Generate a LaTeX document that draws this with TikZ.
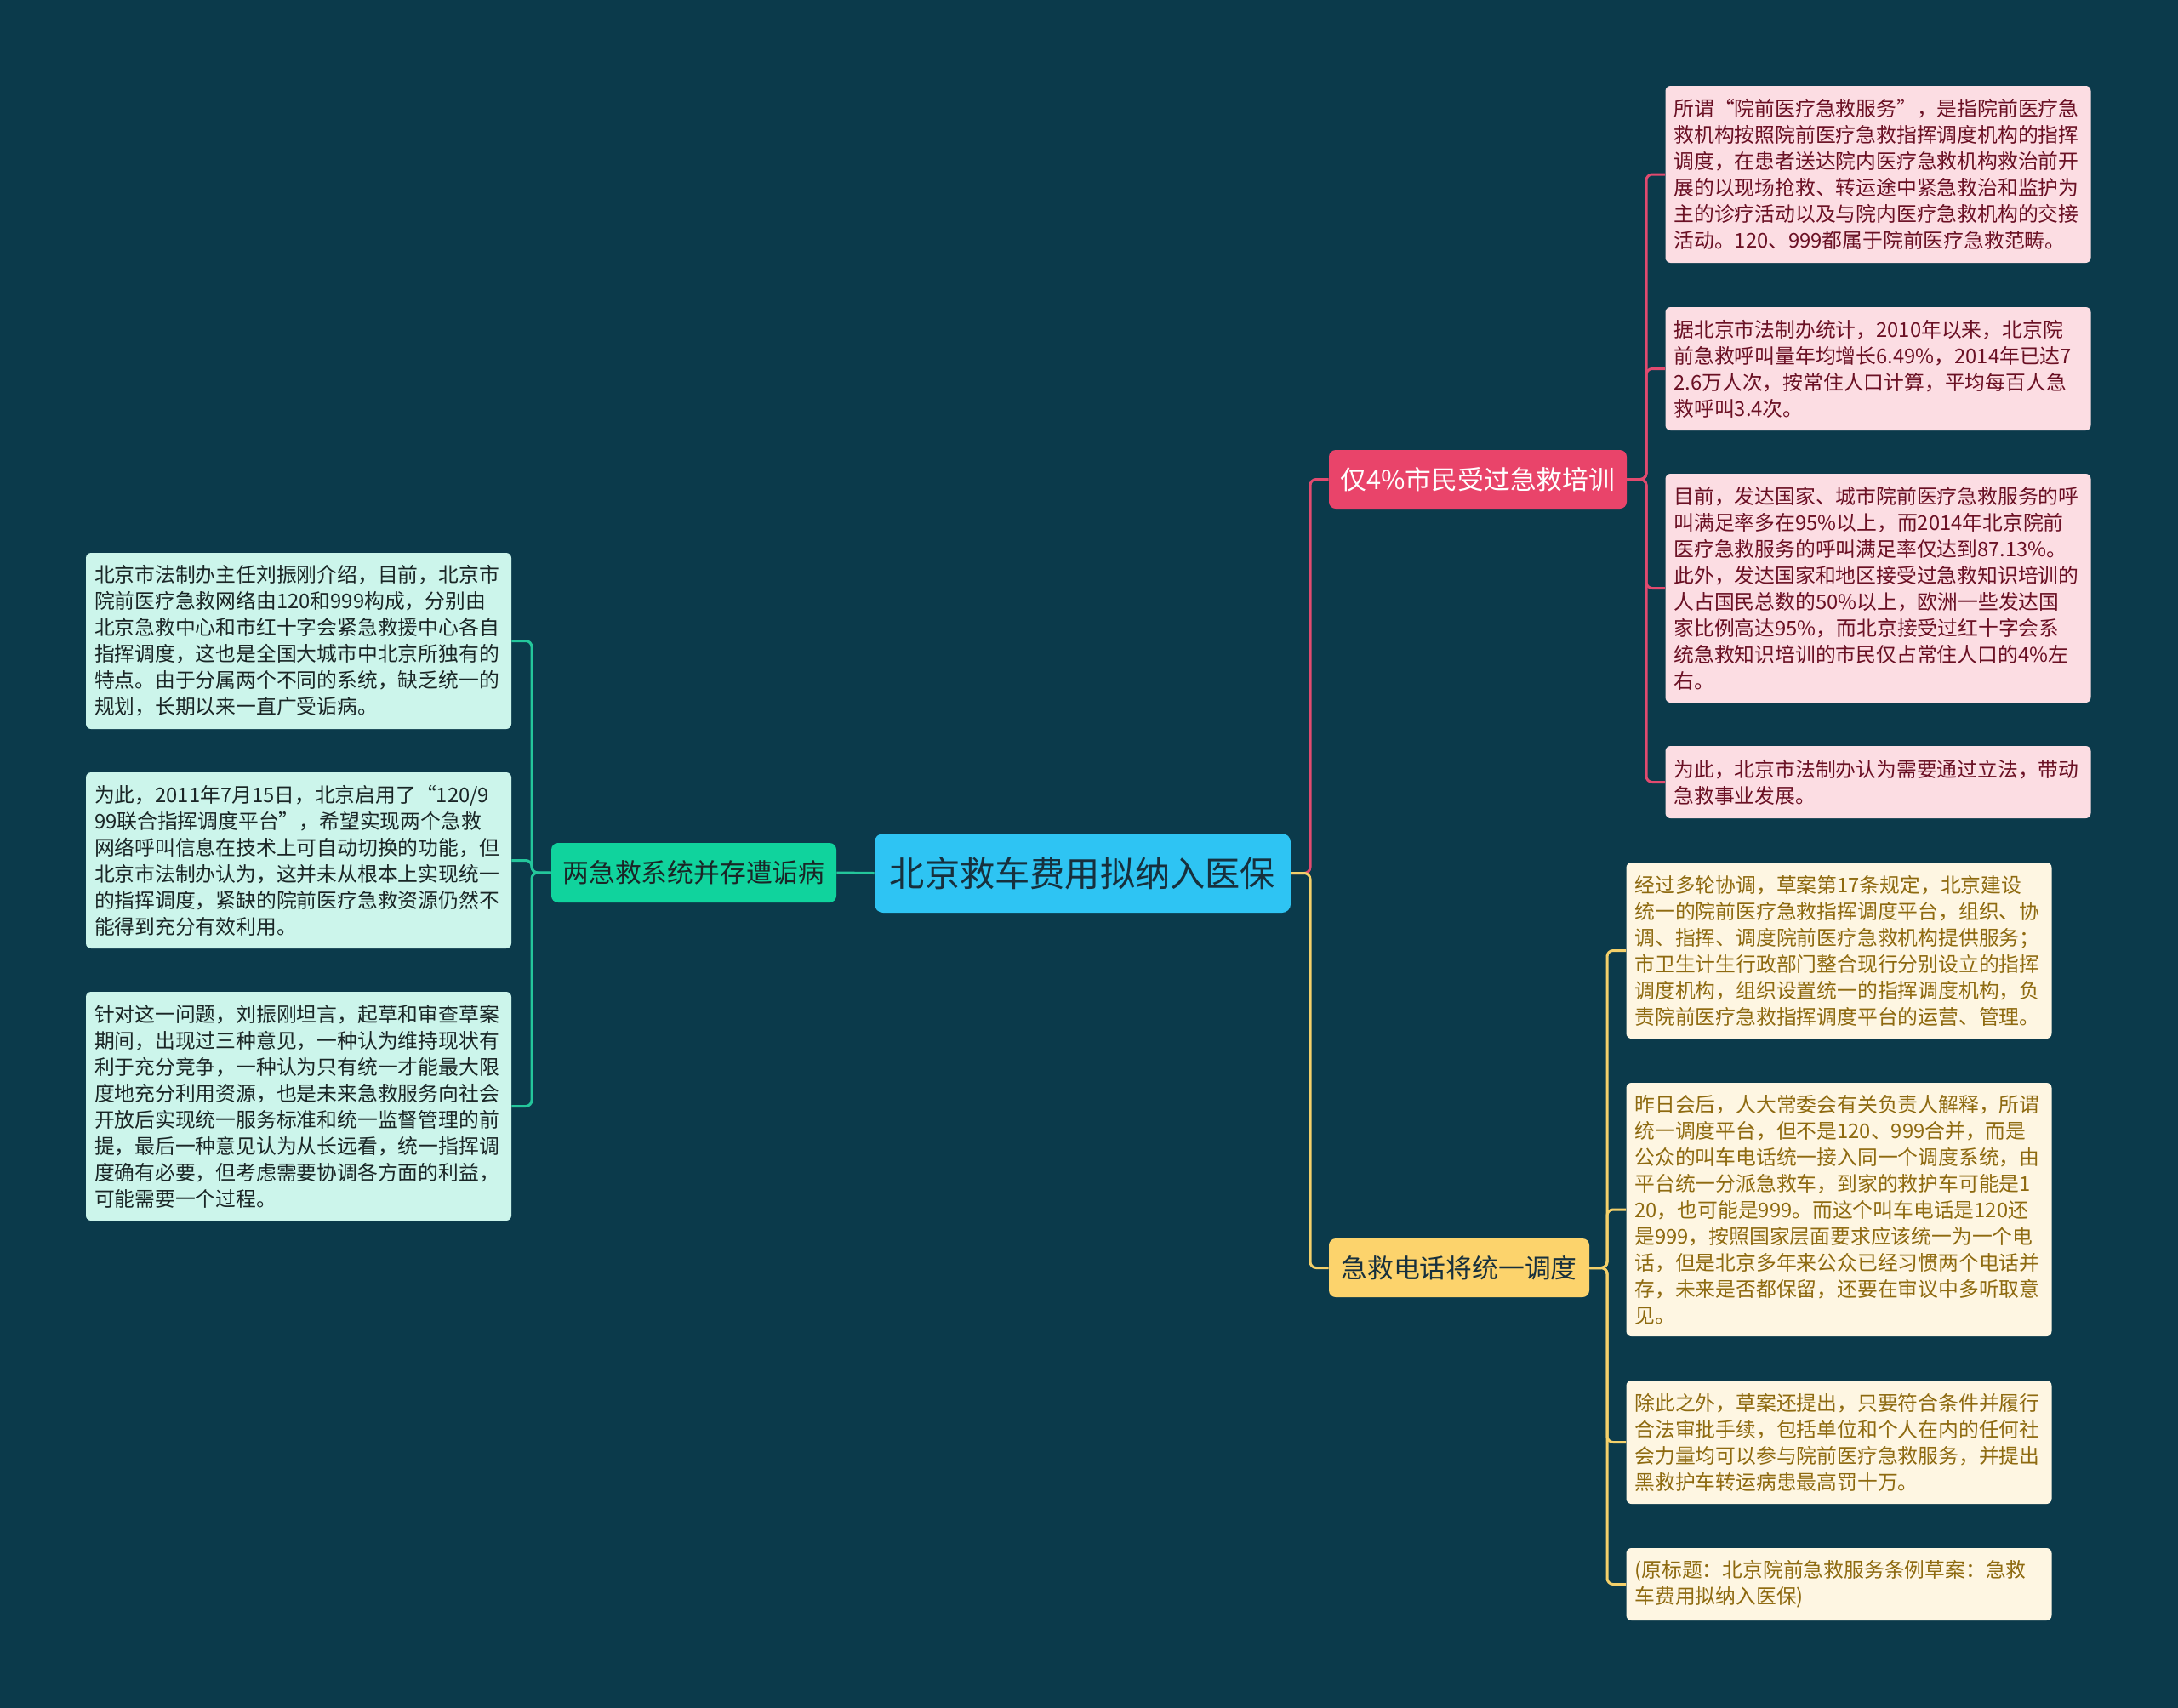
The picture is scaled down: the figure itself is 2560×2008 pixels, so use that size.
\documentclass[tikz,border=0pt]{standalone}
\usepackage{fontspec}
\setmainfont{Noto Sans CJK SC}
\usetikzlibrary{calc}

\definecolor{bgteal}{HTML}{0B3A4B}
\definecolor{rootblue}{HTML}{2EC4F3}
\definecolor{rootink}{HTML}{17303D}
\definecolor{brgreen}{HTML}{10D39D}
\definecolor{brpink}{HTML}{E9446A}
\definecolor{bryellow}{HTML}{FCD36C}
\definecolor{lfgreen}{HTML}{CCF5EB}
\definecolor{lfpink}{HTML}{FCDDE3}
\definecolor{lfyellow}{HTML}{FEF6E2}
\definecolor{inkgreen}{HTML}{1A2626}
\definecolor{inkpink}{HTML}{6A1024}
\definecolor{inkyellow}{HTML}{8E6A10}
\definecolor{lngreen}{HTML}{24C69B}
\definecolor{lnpink}{HTML}{E14A6F}
\definecolor{lnyellow}{HTML}{F4D06A}

\begin{document}
\begin{tikzpicture}[x=0.5pt,y=-0.5pt,
  every node/.style={font=\fontsize{11.9}{15.5}\selectfont},
  leaf/.style={rectangle, rounded corners=3pt, text width=240pt, inner xsep=5pt,
    inner ysep=0pt, align=left, anchor=center},
  leafgreen/.style={leaf, fill=lfgreen, text=inkgreen},
  leafpink/.style={leaf, fill=lfpink, text=inkpink},
  leafyellow/.style={leaf, fill=lfyellow, text=inkyellow},
  branch/.style={rectangle, rounded corners=4pt, inner sep=0pt,
    font=\fontsize{15.4}{18}\selectfont},
  lnk/.style={line width=1.5pt, rounded corners=3.5pt}]
  \useasboundingbox (0,0) rectangle (2560,2008);
  \fill[bgteal] (0,0) rectangle (2560,2008);
  \newcommand{\leafnode}[5]{% name, x, y, height, style + text
    \node[#5, minimum height=#4*0.5pt] (#1) at (#2,#3)
  }

  % root and main branches
  \node[rectangle, rounded corners=5pt, fill=rootblue, text=rootink, inner sep=0pt,
    minimum width=244.5pt, minimum height=46.5pt,
    font=\fontsize{20.6}{24}\selectfont] (root) at (1272.5,1026.5) {北京救车费用拟纳入医保};
  \node[branch, fill=brgreen, text=inkgreen, minimum width=167.5pt, minimum height=35pt]
    (gm) at (815.5,1026) {两急救系统并存遭诟病};
  \node[branch, fill=brpink, text=white, minimum width=175pt, minimum height=34.5pt]
    (pm) at (1737,563.5) {仅4\%市民受过急救培训};
  \node[branch, fill=bryellow, text=rootink, minimum width=153pt, minimum height=34.5pt]
    (ym) at (1715,1490.5) {急救电话将统一调度};

  % left leaves
  \leafnode{L1}{351}{753.5}{207}{leafgreen}
    {北京市法制办主任刘振刚介绍，目前，北京市\\
     院前医疗急救网络由120和999构成，分别由\\
     北京急救中心和市红十字会紧急救援中心各自\\
     指挥调度，这也是全国大城市中北京所独有的\\
     特点。由于分属两个不同的系统，缺乏统一的\\
     规划，长期以来一直广受诟病。};
  \leafnode{L2}{351}{1011.5}{207}{leafgreen}
    {为此，2011年7月15日，北京启用了“120/9\\
     99联合指挥调度平台”，希望实现两个急救\\
     网络呼叫信息在技术上可自动切换的功能，但\\
     北京市法制办认为，这并未从根本上实现统一\\
     的指挥调度，紧缺的院前医疗急救资源仍然不\\
     能得到充分有效利用。};
  \leafnode{L3}{351}{1300.5}{269}{leafgreen}
    {针对这一问题，刘振刚坦言，起草和审查草案\\
     期间，出现过三种意见，一种认为维持现状有\\
     利于充分竞争，一种认为只有统一才能最大限\\
     度地充分利用资源，也是未来急救服务向社会\\
     开放后实现统一服务标准和统一监督管理的前\\
     提，最后一种意见认为从长远看，统一指挥调\\
     度确有必要，但考虑需要协调各方面的利益，\\
     可能需要一个过程。};

  % pink leaves
  \leafnode{P1}{2207.5}{205}{208}{leafpink}
    {所谓“院前医疗急救服务”，是指院前医疗急\\
     救机构按照院前医疗急救指挥调度机构的指挥\\
     调度，在患者送达院内医疗急救机构救治前开\\
     展的以现场抢救、转运途中紧急救治和监护为\\
     主的诊疗活动以及与院内医疗急救机构的交接\\
     活动。120、999都属于院前医疗急救范畴。};
  \leafnode{P2}{2207.5}{433.5}{145}{leafpink}
    {据北京市法制办统计，2010年以来，北京院\\
     前急救呼叫量年均增长6.49\%，2014年已达7\\
     2.6万人次，按常住人口计算，平均每百人急\\
     救呼叫3.4次。};
  \leafnode{P3}{2207.5}{691.5}{269}{leafpink}
    {目前，发达国家、城市院前医疗急救服务的呼\\
     叫满足率多在95\%以上，而2014年北京院前\\
     医疗急救服务的呼叫满足率仅达到87.13\%。\\
     此外，发达国家和地区接受过急救知识培训的\\
     人占国民总数的50\%以上，欧洲一些发达国\\
     家比例高达95\%，而北京接受过红十字会系\\
     统急救知识培训的市民仅占常住人口的4\%左\\
     右。};
  \leafnode{P4}{2207.5}{919.5}{85}{leafpink}
    {为此，北京市法制办认为需要通过立法，带动\\
     急救事业发展。};

  % yellow leaves
  \leafnode{Y1}{2161.5}{1117.5}{207}{leafyellow}
    {经过多轮协调，草案第17条规定，北京建设\\
     统一的院前医疗急救指挥调度平台，组织、协\\
     调、指挥、调度院前医疗急救机构提供服务；\\
     市卫生计生行政部门整合现行分别设立的指挥\\
     调度机构，组织设置统一的指挥调度机构，负\\
     责院前医疗急救指挥调度平台的运营、管理。};
  \leafnode{Y2}{2161.5}{1422}{298}{leafyellow}
    {昨日会后，人大常委会有关负责人解释，所谓\\
     统一调度平台，但不是120、999合并，而是\\
     公众的叫车电话统一接入同一个调度系统，由\\
     平台统一分派急救车，到家的救护车可能是1\\
     20，也可能是999。而这个叫车电话是120还\\
     是999，按照国家层面要求应该统一为一个电\\
     话，但是北京多年来公众已经习惯两个电话并\\
     存，未来是否都保留，还要在审议中多听取意\\
     见。};
  \leafnode{Y3}{2161.5}{1695.5}{145}{leafyellow}
    {除此之外，草案还提出，只要符合条件并履行\\
     合法审批手续，包括单位和个人在内的任何社\\
     会力量均可以参与院前医疗急救服务，并提出\\
     黑救护车转运病患最高罚十万。};
  \leafnode{Y4}{2161.5}{1862.5}{85}{leafyellow}
    {(原标题：北京院前急救服务条例草案：急救\\
     车费用拟纳入医保)};

  % connectors
  \coordinate (spL) at (625,1026);
  \coordinate (spC) at (1540,1026.5);
  \coordinate (spP) at (1935,563.5);
  \coordinate (spY) at (1889,1490.5);
  \draw[lnk, lngreen] (root.west) -- (gm.east);
  \draw[lnk, lnpink] (root.east) -- (spC) |- (pm.west);
  \draw[lnk, lnyellow] (root.east) -- (spC) |- (ym.west);
  \foreach \n in {L1,L2,L3}
    \draw[lnk, lngreen] (gm.west) -- (spL) |- (\n.east);
  \foreach \n in {P1,P2,P3,P4}
    \draw[lnk, lnpink] (pm.east) -- (spP) |- (\n.west);
  \foreach \n in {Y1,Y2,Y3,Y4}
    \draw[lnk, lnyellow] (ym.east) -- (spY) |- (\n.west);
\end{tikzpicture}
\end{document}
